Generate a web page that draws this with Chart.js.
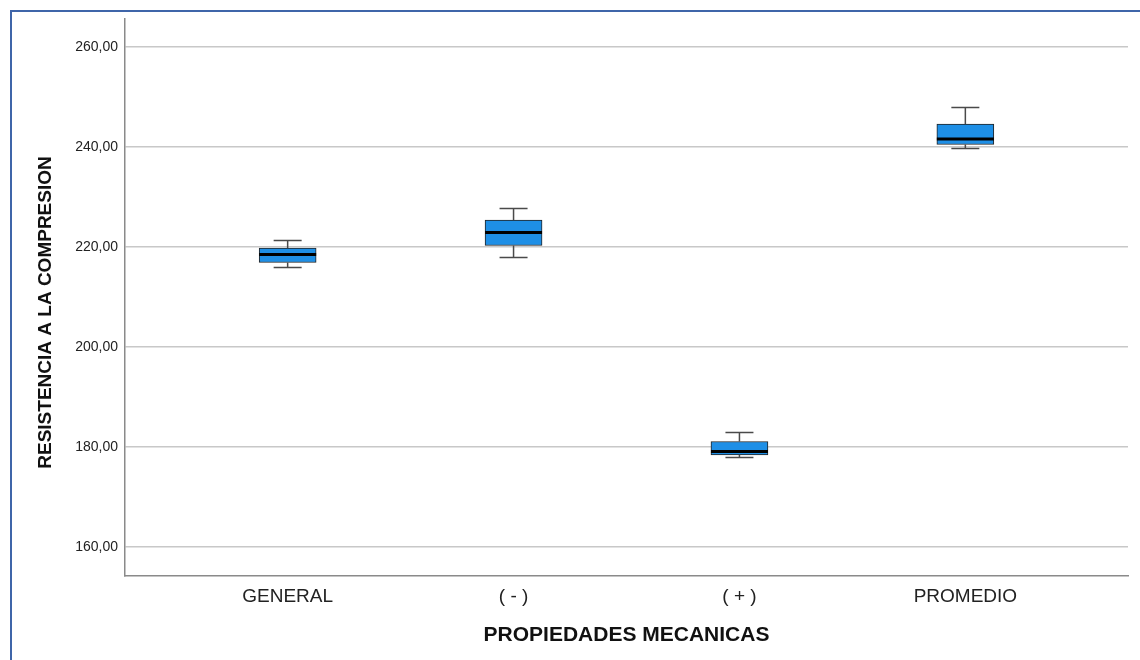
<!DOCTYPE html>
<html>
<head>
<meta charset="utf-8">
<script src="https://cdn.jsdelivr.net/npm/chart.js@4.4.1/dist/chart.umd.min.js"></script>
<style>
  html, body { margin: 0; padding: 0; background: #fff; }
  #wrap { position: relative; width: 1140px; height: 660px; overflow: hidden; }
  #frame { position: absolute; left: 10px; top: 10px; width: 1200px; height: 700px;
           border-top: 2px solid #3f65a9; border-left: 2px solid #3f65a9; box-sizing: border-box; pointer-events: none; }
  canvas { position: absolute; left: 0; top: 0; }
</style>
</head>
<body>
<div id="wrap">
  <canvas id="c" width="1140" height="660"></canvas>
  <div id="frame"></div>
</div>
<script>
// ---- data ----
const categories = ['GENERAL', '( - )', '( + )', 'PROMEDIO'];
const whiskerLow  = [215.9, 217.9, 177.9, 239.7];
const quartile1   = [216.9, 220.3, 178.4, 240.5];
const medians     = [218.5, 222.9, 179.1, 241.6];
const quartile3   = [219.8, 225.4, 181.1, 244.6];
const whiskerHigh = [221.3, 227.7, 182.9, 247.9];
const yTicks = [160, 180, 200, 220, 240, 260];
const xTitle = 'PROPIEDADES MECANICAS';
const yTitle = 'RESISTENCIA A LA COMPRESION';

const boxData = categories.map((c, i) => ({ x: i, y: [quartile1[i], quartile3[i]] }));

const boxPlugin = {
  id: 'boxExtras',
  afterDatasetsDraw(chart) {
    const { ctx, scales: { x, y } } = chart;
    ctx.save();
    categories.forEach((c, i) => {
      const cx = x.getPixelForValue(i);
      const capHalf = 14;
      ctx.strokeStyle = '#4a4a4a';
      ctx.lineWidth = 1.5;
      ctx.beginPath();
      ctx.moveTo(cx, y.getPixelForValue(quartile3[i]));
      ctx.lineTo(cx, y.getPixelForValue(whiskerHigh[i]));
      ctx.moveTo(cx - capHalf, y.getPixelForValue(whiskerHigh[i]));
      ctx.lineTo(cx + capHalf, y.getPixelForValue(whiskerHigh[i]));
      ctx.moveTo(cx, y.getPixelForValue(quartile1[i]));
      ctx.lineTo(cx, y.getPixelForValue(whiskerLow[i]));
      ctx.moveTo(cx - capHalf, y.getPixelForValue(whiskerLow[i]));
      ctx.lineTo(cx + capHalf, y.getPixelForValue(whiskerLow[i]));
      ctx.stroke();
      const el = chart.getDatasetMeta(0).data[i];
      const half = el.width / 2;
      ctx.strokeStyle = '#000';
      ctx.lineWidth = 3;
      ctx.beginPath();
      ctx.moveTo(cx - half, y.getPixelForValue(medians[i]));
      ctx.lineTo(cx + half, y.getPixelForValue(medians[i]));
      ctx.stroke();
    });
    ctx.restore();
  },
  afterDraw(chart) {
    const { ctx, chartArea } = chart;
    ctx.save();
    ctx.translate(46, (chartArea.top + chartArea.bottom) / 2 + 15);
    ctx.rotate(-Math.PI / 2);
    ctx.fillStyle = '#111';
    ctx.font = 'bold 19px "Liberation Sans", Arial, sans-serif';
    ctx.textAlign = 'center';
    ctx.textBaseline = 'middle';
    ctx.fillText(yTitle, 0, 0);
    ctx.restore();
  }
};

new Chart(document.getElementById('c'), {
  type: 'bar',
  data: {
    datasets: [{
      data: boxData,
      backgroundColor: '#1e8fe6',
      borderColor: '#222',
      borderWidth: 1,
      borderSkipped: false,
      barThickness: 57
    }]
  },
  plugins: [boxPlugin],
  options: {
    responsive: false,
    animation: false,
    events: [],
    layout: { padding: { top: 19, right: 12, left: 0, bottom: 0 } },
    plugins: { legend: { display: false }, tooltip: { enabled: false } },
    scales: {
      x: {
        type: 'linear',
        offset: false,
        min: -0.72,
        max: 3.72,
        afterBuildTicks(s) { s.ticks = categories.map((c, i) => ({ value: i })); },
        afterFit(s) { s.height = 84; },
        grid: { display: false, drawTicks: false },
        border: { display: true, color: '#8a8a8a', width: 1.5 },
        ticks: {
          callback: (v) => categories[v] !== undefined ? categories[v] : '',
          color: '#222',
          font: { family: 'Liberation Sans, Arial, sans-serif', size: 19 },
          padding: 9,
          maxRotation: 0,
          autoSkip: false
        },
        title: {
          display: true,
          text: xTitle,
          color: '#111',
          font: { family: 'Liberation Sans, Arial, sans-serif', size: 21, weight: 'bold' },
          padding: { top: 0, bottom: 12 }
        }
      },
      y: {
        min: 154.2,
        max: 265.6,
        afterBuildTicks(s) { s.ticks = yTicks.map(v => ({ value: v })); },
        afterFit(s) { s.width = 125; },
        grid: { color: '#c8c8c8', lineWidth: 1.5, drawTicks: false },
        border: { display: true, color: '#8a8a8a', width: 1.5 },
        ticks: {
          callback: (v) => v.toFixed(2).replace('.', ','),
          color: '#222',
          font: { family: 'Liberation Sans, Arial, sans-serif', size: 14 },
          padding: 7
        },
        title: { display: false }
      }
    }
  }
});
</script>
</body>
</html>
